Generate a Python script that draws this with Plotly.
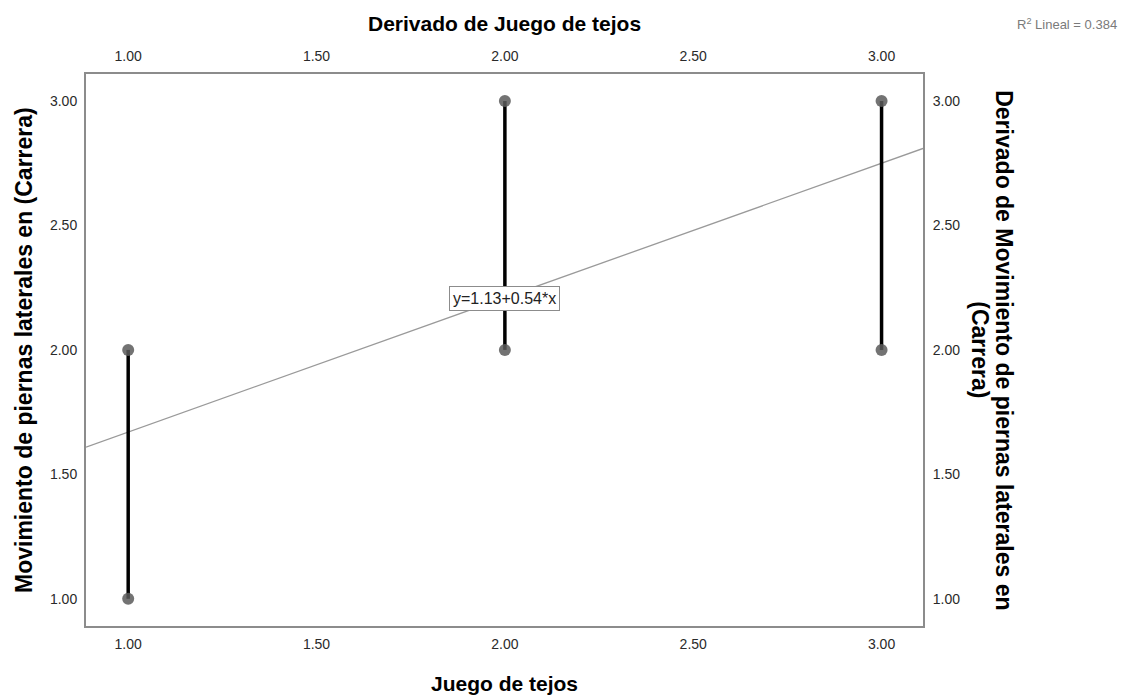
import plotly.graph_objects as go

# Data
x_vals = [1.0, 2.0, 3.0]
y_low = [1.0, 2.0, 2.0]
y_high = [2.0, 3.0, 3.0]
fit_intercept = 1.13
fit_slope = 0.54
r2 = 0.384
tick_vals = [1.0, 1.5, 2.0, 2.5, 3.0]
tick_text = ["1.00", "1.50", "2.00", "2.50", "3.00"]

x_range = [0.888, 3.110]
y_range = [0.8906, 3.1086]

FONT = "Liberation Sans, Arial, sans-serif"

fig = go.Figure()

# fit line
fx = [x_range[0], x_range[1]]
fy = [fit_intercept + fit_slope * v for v in fx]
fig.add_trace(go.Scatter(x=fx, y=fy, mode="lines",
                         line=dict(color="#9a9a9a", width=1.3),
                         hoverinfo="skip", showlegend=False))

# vertical range lines
lx, ly = [], []
for xv, lo, hi in zip(x_vals, y_low, y_high):
    lx += [xv, xv, None]
    ly += [lo, hi, None]
fig.add_trace(go.Scatter(x=lx, y=ly, mode="lines",
                         line=dict(color="black", width=3.5),
                         showlegend=False))

# points
px = x_vals + x_vals
py = y_low + y_high
fig.add_trace(go.Scatter(x=px, y=py, mode="markers",
                         marker=dict(color="rgba(90,90,90,0.85)", size=12,
                                     line=dict(width=0)),
                         showlegend=False))

axis_common = dict(tickvals=tick_vals, ticktext=tick_text, showgrid=False,
                   zeroline=False, ticks="outside", tickcolor="rgba(0,0,0,0)",
                   tickfont=dict(family=FONT, size=14, color="#2a2a2a"))

fig.update_layout(
    width=1118, height=688,
    margin=dict(l=78, r=203, t=66, b=70, pad=0),
    paper_bgcolor="white", plot_bgcolor="white",
    xaxis=dict(range=x_range, showline=True, linecolor="#8c8c8c", linewidth=2,
               mirror=True, ticklen=4, **axis_common),
    xaxis2=dict(range=x_range, overlaying="x", side="top", matches="x",
                showline=False, ticklen=6, **axis_common),
    yaxis=dict(range=y_range, showline=True, linecolor="#8c8c8c", linewidth=2,
               mirror=True, ticklen=4, **axis_common),
    yaxis2=dict(range=y_range, overlaying="y", side="right", matches="y",
                showline=False, ticklen=6, **axis_common),
)
# invisible trace to anchor secondary axes
fig.add_trace(go.Scatter(x=[x_vals[0]], y=[y_low[0]], xaxis="x2", yaxis="y2",
                         mode="markers", marker=dict(opacity=0), hoverinfo="skip",
                         showlegend=False))

hfont = dict(family=FONT, size=21, color="black")
vfont = dict(family=FONT, size=23, color="black")
fig.add_annotation(text="<b>Juego de tejos</b>", xref="paper", yref="paper",
                   x=0.5, y=-0.1033, xanchor="center", yanchor="middle",
                   showarrow=False, font=hfont)
fig.add_annotation(text="<b>Derivado de Juego de tejos</b>", xref="paper", yref="paper",
                   x=0.5, y=1.0907, xanchor="center", yanchor="middle",
                   showarrow=False, font=hfont)
fig.add_annotation(text="<b>Movimiento de piernas laterales en (Carrera)</b>",
                   xref="paper", yref="paper", x=-0.0741, y=0.5, textangle=-90,
                   xanchor="center", yanchor="middle",
                   showarrow=False, font=vfont)
fig.add_annotation(text="<b>Derivado de Movimiento de piernas laterales en</b>",
                   xref="paper", yref="paper", x=1.0968, y=0.4995, textangle=90,
                   xanchor="center", yanchor="middle",
                   showarrow=False, font=vfont)
fig.add_annotation(text="<b>(Carrera)</b>",
                   xref="paper", yref="paper", x=1.0681, y=0.4995, textangle=90,
                   xanchor="center", yanchor="middle",
                   showarrow=False, font=vfont)
fig.add_annotation(text=f"R<sup>2</sup> Lineal = {r2:.3f}", xref="paper", yref="paper",
                   x=1.1099, y=1.0907, xanchor="left", yanchor="middle",
                   showarrow=False, font=dict(family=FONT, size=13, color="#7a7a7a"))

# equation label
fig.add_annotation(text=f"y={fit_intercept:.2f}+{fit_slope:.2f}*x", x=2.0, y=2.208,
                   xref="x", yref="y", showarrow=False,
                   font=dict(family=FONT, size=16, color="#222"),
                   bgcolor="white", bordercolor="#8c8c8c", borderwidth=1, borderpad=3)

fig.write_html("out.html")
